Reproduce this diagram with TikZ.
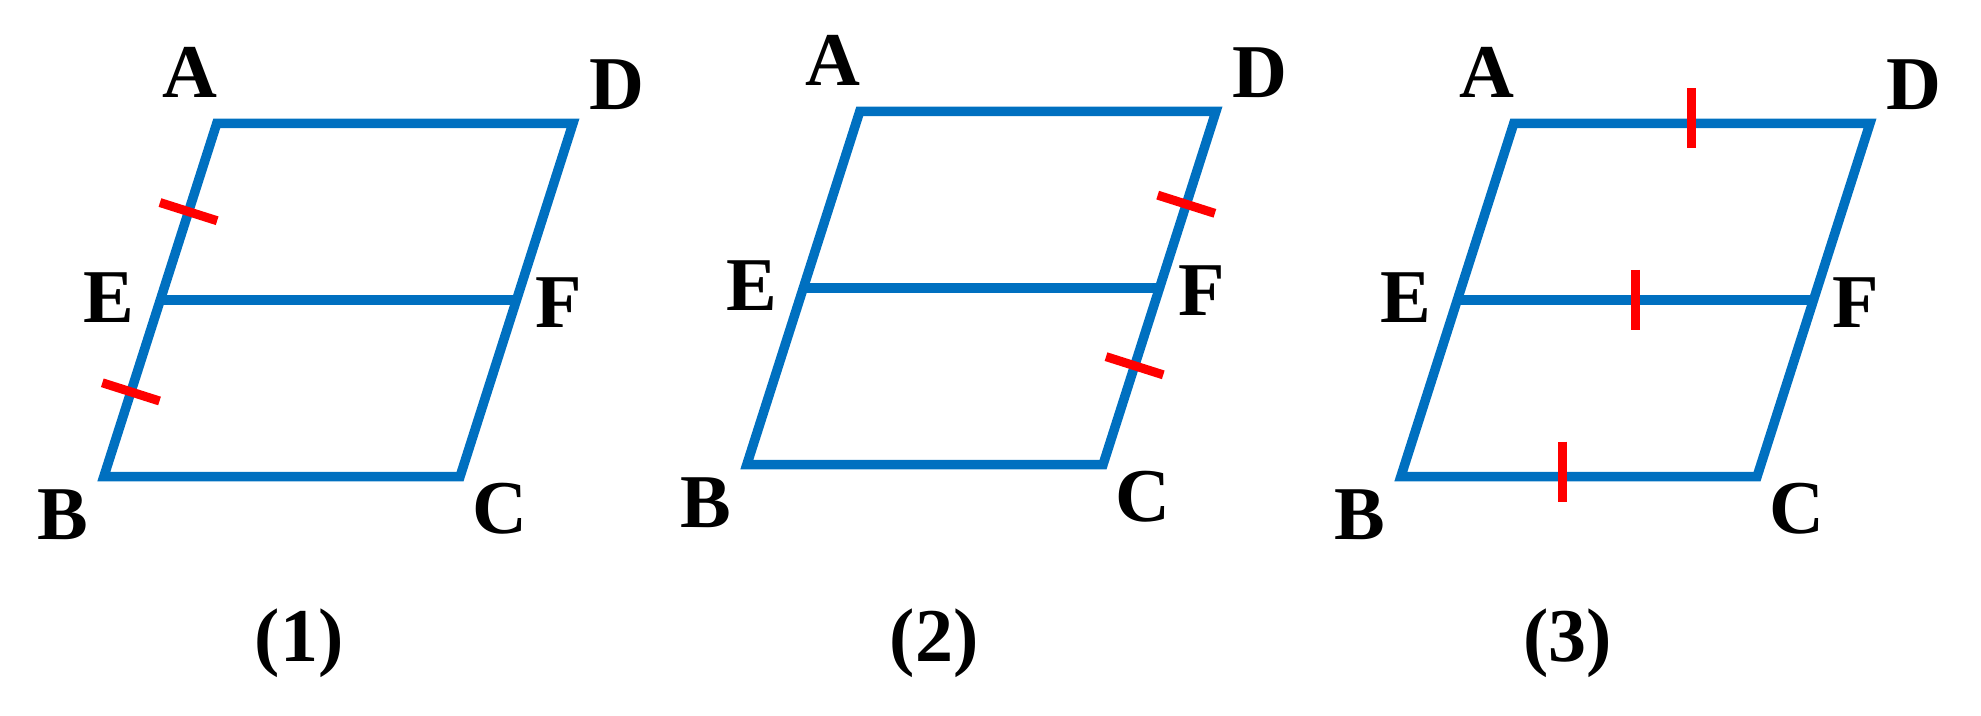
\documentclass[tikz,border=0pt]{standalone}
\usepackage{fontspec}
\setmainfont{Liberation Serif}
\usetikzlibrary{calc}
\definecolor{edgeblue}{HTML}{0070C0}
\definecolor{tickred}{HTML}{FF0000}
\begin{document}
\begin{tikzpicture}[x=0.5pt,y=-0.5pt,
  side/.style={draw=edgeblue,line width=4.75pt},
  tickmark/.style={draw=tickred,line width=4.5pt},
  lbl/.style={anchor=base,inner sep=0pt,font=\fontsize{38}{40}\selectfont\bfseries}]
\useasboundingbox (0,0) rectangle (1981,716);

% ---------- figure (1) ----------
\coordinate (A1) at (216.8,123.3);
\coordinate (D1) at (573,123.3);
\coordinate (B1) at (103.8,476.7);
\coordinate (C1) at (460,476.7);
\coordinate (E1) at ($(A1)!0.5!(B1)$);
\coordinate (F1) at ($(D1)!0.5!(C1)$);
\draw[side] (A1) -- (D1) -- (C1) -- (B1) -- cycle;
\draw[side] (E1) -- (F1);
\draw[tickmark] ($(A1)!0.25!(B1)+(-28.6,-9.1)$) -- ($(A1)!0.25!(B1)+(28.6,9.1)$);
\draw[tickmark] ($(A1)!0.76!(B1)+(-28.6,-9.1)$) -- ($(A1)!0.76!(B1)+(28.6,9.1)$);
\node[lbl] (lA1) at (190,97.3) {A};
\node[lbl] (lD1) at (616.7,110) {D};
\node[lbl] (lB1) at (63,539) {B};
\node[lbl] (lC1) at (499.5,533) {C};
\node[lbl] (lE1) at (109,323) {E};
\node[lbl] (lF1) at (559,328) {F};
\node[lbl] (cap1) at (299,661) {(1)};

% ---------- figure (2) ----------
\begin{scope}[shift={(643,-12)}]
\coordinate (A2) at (216.8,123.3);
\coordinate (D2) at (573,123.3);
\coordinate (B2) at (103.8,476.7);
\coordinate (C2) at (460,476.7);
\coordinate (E2) at ($(A2)!0.5!(B2)$);
\coordinate (F2) at ($(D2)!0.5!(C2)$);
\draw[side] (A2) -- (D2) -- (C2) -- (B2) -- cycle;
\draw[side] (E2) -- (F2);
\draw[tickmark] ($(D2)!0.263!(C2)+(-28.6,-9.1)$) -- ($(D2)!0.263!(C2)+(28.6,9.1)$);
\draw[tickmark] ($(D2)!0.72!(C2)+(-28.6,-9.1)$) -- ($(D2)!0.72!(C2)+(28.6,9.1)$);
\node[lbl] (lA2) at (190,97.3) {A};
\node[lbl] (lD2) at (616.7,110) {D};
\node[lbl] (lB2) at (63,539) {B};
\node[lbl] (lC2) at (499.5,533) {C};
\node[lbl] (lE2) at (109,323) {E};
\node[lbl] (lF2) at (559,328) {F};
\end{scope}
\node[lbl] (cap2) at (934,661) {(2)};

% ---------- figure (3) ----------
\begin{scope}[shift={(1297,0)}]
\coordinate (A3) at (216.8,123.3);
\coordinate (D3) at (573,123.3);
\coordinate (B3) at (103.8,476.7);
\coordinate (C3) at (460,476.7);
\coordinate (E3) at ($(A3)!0.5!(B3)$);
\coordinate (F3) at ($(D3)!0.5!(C3)$);
\draw[side] (A3) -- (D3) -- (C3) -- (B3) -- cycle;
\draw[side] (E3) -- (F3);
\draw[tickmark] ($(A3)!0.5!(D3)+(0,-35)$) -- ($(A3)!0.5!(D3)+(0,25)$);
\draw[tickmark] ($(E3)!0.5!(F3)+(0,-30)$) -- ($(E3)!0.5!(F3)+(0,30)$);
\draw[tickmark] ($(B3)!0.453!(C3)+(0,-35)$) -- ($(B3)!0.453!(C3)+(0,25)$);
\node[lbl] (lA3) at (190,97.3) {A};
\node[lbl] (lD3) at (616.7,110) {D};
\node[lbl] (lB3) at (63,539) {B};
\node[lbl] (lC3) at (499.5,533) {C};
\node[lbl] (lE3) at (109,323) {E};
\node[lbl] (lF3) at (559,328) {F};
\end{scope}
\node[lbl] (cap3) at (1567.5,661) {(3)};
\end{tikzpicture}
\end{document}
